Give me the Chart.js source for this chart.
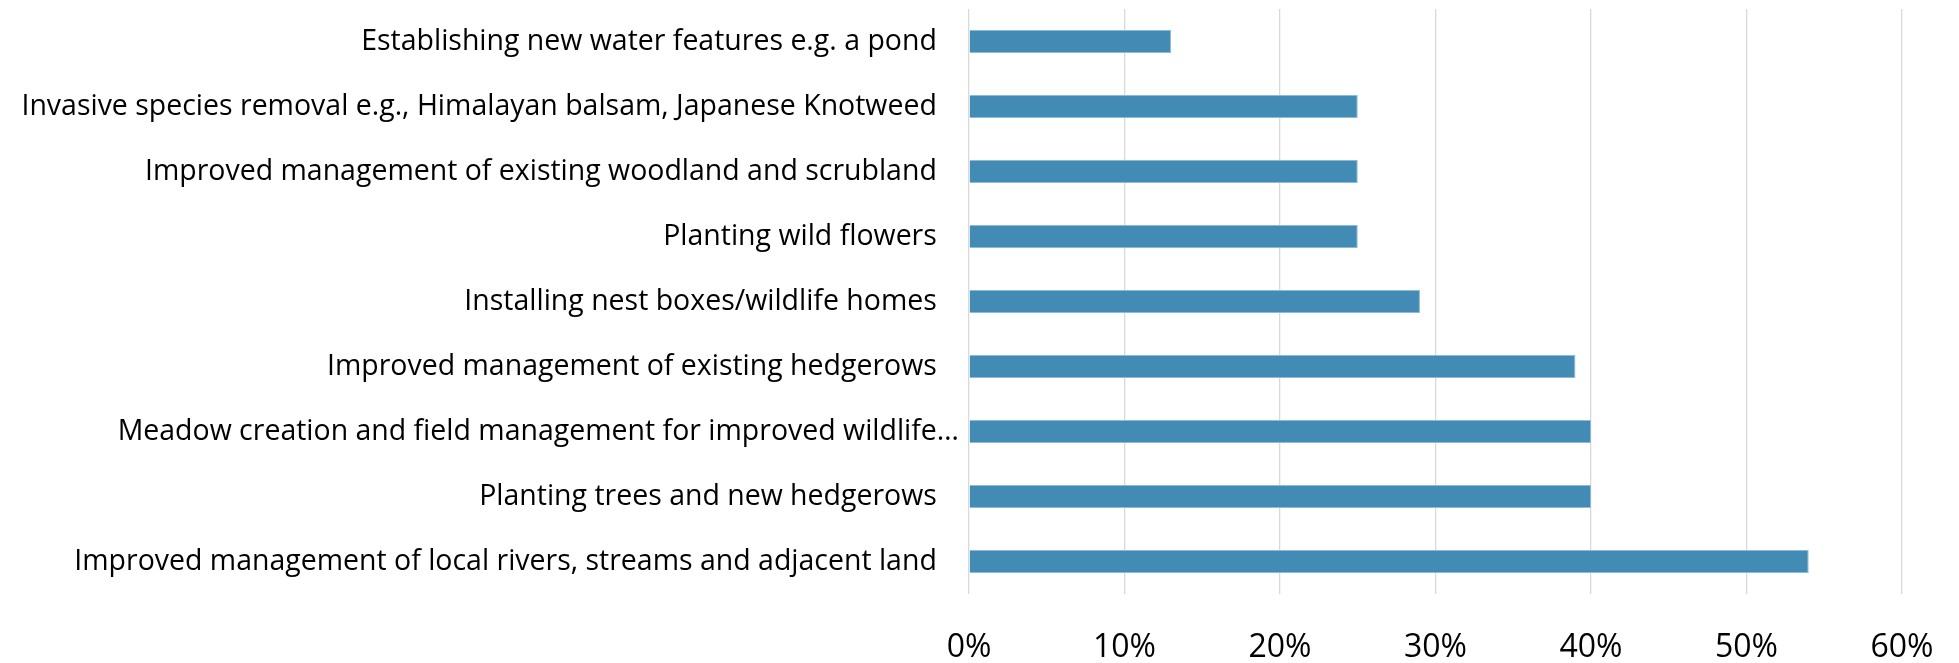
<!DOCTYPE html>
<html>
<head>
<meta charset="utf-8">
<script src="https://cdn.jsdelivr.net/npm/chart.js@4"></script>
<style>
    html, body { margin: 0; padding: 0; background: #fff; }
    #wrap { width: 1959px; height: 663px; }
</style>
</head>
<body>
<div id="wrap"><canvas id="chart"></canvas></div>
<script>
// Datos del grafico (de arriba hacia abajo)
const categorias = [
    'Establishing new water features e.g. a pond',
    'Invasive species removal e.g., Himalayan balsam, Japanese Knotweed',
    'Improved management of existing woodland and scrubland',
    'Planting wild flowers',
    'Installing nest boxes/wildlife homes',
    'Improved management of existing hedgerows',
    'Meadow creation and field management for improved wildlife…',
    'Planting trees and new hedgerows',
    'Improved management of local rivers, streams and adjacent land'
];
const valores = [13, 25, 25, 25, 29, 39, 40, 40, 54];
const ticksX = [0, 10, 20, 30, 40, 50, 60];

const FUENTE = "'Open Sans', sans-serif";

// Ajustar tamano de fuente al ancho del original
const mctx = document.createElement('canvas').getContext('2d');
function tamanoPara(texto, ancho) {
    mctx.font = '100px ' + FUENTE;
    return 100 * ancho / mctx.measureText(texto).width;
}
const fLabels = tamanoPara(categorias[8], 863);
const fTicks = 32;

// Etiquetas: todas con espacio final menos la truncada
mctx.font = fLabels + 'px ' + FUENTE;
const etiquetas = categorias.map(c => {
    if (c.endsWith('…')) return c;
    let s = c;
    while (mctx.measureText(s + ' ').width - mctx.measureText(c).width <= 24) s += ' ';
    return s;
});

const ctx = document.getElementById('chart').getContext('2d');
new Chart(ctx, {
    type: 'bar',
    data: {
        labels: etiquetas,
        datasets: [{
            data: valores,
            backgroundColor: '#428bb5',
            borderColor: '#8dbad6',
            borderWidth: 1,
            borderSkipped: 'start',
            categoryPercentage: 1,
            barPercentage: 0.355
        }]
    },
    options: {
        indexAxis: 'y',
        responsive: true,
        maintainAspectRatio: false,
        animation: false,
        layout: { padding: { top: 9, right: 57, bottom: 0, left: 0 } },
        plugins: { legend: { display: false }, tooltip: { enabled: false } },
        scales: {
            x: {
                min: 0,
                max: 60,
                afterBuildTicks: s => { s.ticks = ticksX.map(v => ({ value: v })); },
                afterFit: s => {
                    s.height = 69;
                    s.paddingLeft = 0;
                    s.paddingRight = 0;
                },
                grid: { color: '#d9d9d9', lineWidth: 1.3, drawTicks: false },
                border: { display: false },
                ticks: {
                    color: '#000',
                    font: { family: FUENTE, size: fTicks },
                    padding: 35,
                    maxRotation: 0,
                    callback: v => v + '%'
                }
            },
            y: {
                afterFit: s => {
                    s.width = 969;
                    s.paddingTop = 0;
                    s.paddingBottom = 0;
                },
                grid: { display: false },
                border: { display: false },
                ticks: {
                    color: '#000',
                    font: { family: FUENTE, size: fLabels },
                    padding: 2,
                    autoSkip: false
                }
            }
        }
    }
});
</script>
</body>
</html>
